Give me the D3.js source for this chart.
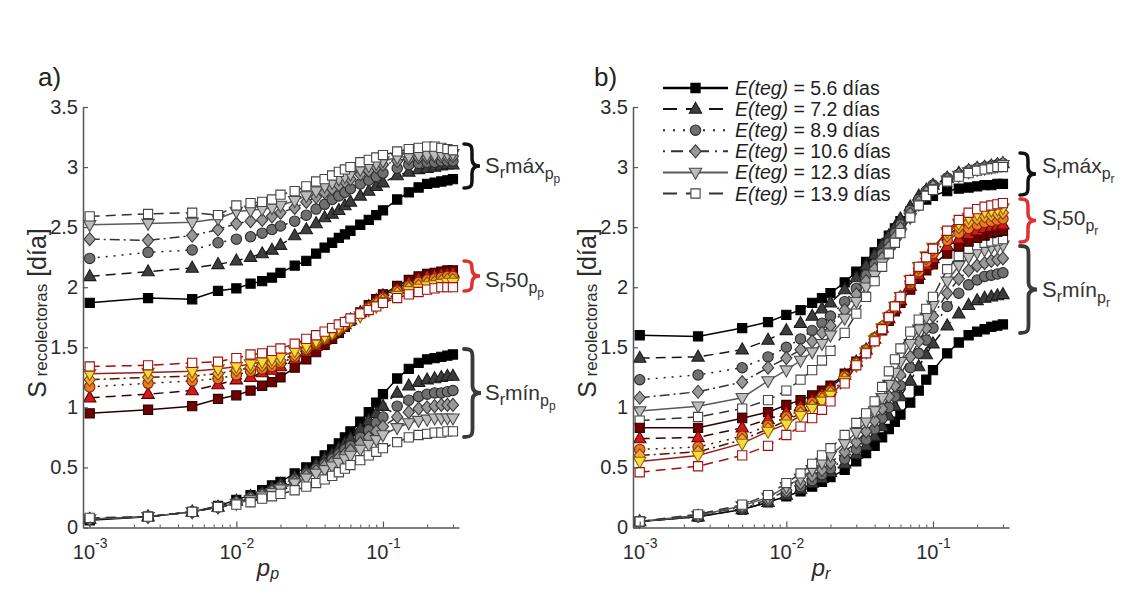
<!DOCTYPE html>
<html>
<head>
<meta charset="utf-8">
<script src="https://cdn.jsdelivr.net/npm/d3@7"></script>
<style>
  body { margin: 0; background: #fff; }
  svg { display: block; }
  text { font-family: "Liberation Sans", Arial, Helvetica, sans-serif; }
</style>
</head>
<body>
<svg id="chart" width="1131" height="594"></svg>
<script>
// Probability grid shared by every curve (p_p on the left, p_r on the right)
const pValues = [0.001, 0.0025, 0.005, 0.0075, 0.01, 0.0125, 0.015, 0.0175, 0.02, 0.025, 0.03, 0.035, 0.04, 0.045, 0.05,
                 0.055, 0.06, 0.07, 0.08, 0.09, 0.1, 0.125, 0.15, 0.175, 0.2, 0.225, 0.25, 0.275, 0.3];
const ePeriods = ["5.6", "7.2", "8.9", "10.6", "12.3", "13.9"];
const yTicks = [0, 0.5, 1, 1.5, 2, 2.5, 3, 3.5];
const xMajorTicks = [0.001, 0.01, 0.1];
const xMinorTicks = [0.002, 0.003, 0.004, 0.005, 0.006, 0.007, 0.008, 0.009,
                     0.02, 0.03, 0.04, 0.05, 0.06, 0.07, 0.08, 0.09, 0.2, 0.3];

// Panel a) : S_r versus p_p (one row per E(teg))
const ppMax = [
  [1.87,1.91,1.90,1.97,1.99,2.03,2.05,2.08,2.12,2.18,2.22,2.28,2.33,2.37,2.41,2.44,2.47,2.52,2.56,2.60,2.64,2.73,2.79,2.83,2.86,2.87,2.88,2.89,2.90],
  [2.09,2.13,2.16,2.19,2.22,2.25,2.28,2.31,2.35,2.43,2.48,2.53,2.58,2.61,2.64,2.68,2.71,2.76,2.80,2.84,2.87,2.93,2.96,2.98,2.99,3.00,3.01,3.02,3.02],
  [2.24,2.29,2.31,2.37,2.40,2.42,2.45,2.48,2.51,2.55,2.60,2.65,2.69,2.73,2.76,2.79,2.82,2.86,2.89,2.92,2.95,2.99,3.02,3.03,3.04,3.04,3.05,3.05,3.05],
  [2.40,2.39,2.43,2.48,2.53,2.55,2.56,2.59,2.62,2.66,2.71,2.75,2.79,2.82,2.85,2.88,2.90,2.94,2.97,3.00,3.02,3.05,3.07,3.08,3.08,3.09,3.09,3.09,3.09],
  [2.52,2.53,2.54,2.57,2.63,2.64,2.65,2.66,2.68,2.72,2.76,2.80,2.84,2.87,2.90,2.92,2.94,2.98,3.01,3.03,3.05,3.08,3.09,3.10,3.10,3.10,3.11,3.11,3.11],
  [2.59,2.61,2.62,2.60,2.68,2.70,2.71,2.73,2.77,2.80,2.84,2.88,2.90,2.93,2.96,2.98,3.00,3.04,3.06,3.08,3.10,3.13,3.15,3.16,3.17,3.17,3.16,3.15,3.14]
];
const pp50 = [
  [0.95,0.98,1.01,1.07,1.10,1.14,1.18,1.21,1.25,1.33,1.40,1.46,1.52,1.57,1.62,1.67,1.72,1.79,1.85,1.90,1.94,2.01,2.06,2.09,2.11,2.12,2.13,2.14,2.14],
  [1.08,1.11,1.14,1.19,1.23,1.25,1.29,1.31,1.34,1.40,1.46,1.51,1.56,1.61,1.65,1.69,1.73,1.79,1.84,1.89,1.93,1.99,2.04,2.07,2.09,2.10,2.11,2.11,2.12],
  [1.17,1.20,1.22,1.24,1.27,1.30,1.32,1.34,1.37,1.42,1.48,1.53,1.57,1.61,1.65,1.69,1.72,1.78,1.83,1.87,1.91,1.97,2.01,2.04,2.06,2.07,2.08,2.09,2.09],
  [1.23,1.25,1.26,1.28,1.31,1.33,1.35,1.37,1.39,1.44,1.49,1.54,1.58,1.62,1.65,1.69,1.72,1.77,1.82,1.86,1.89,1.95,1.99,2.01,2.03,2.04,2.05,2.06,2.06],
  [1.28,1.29,1.30,1.32,1.34,1.36,1.38,1.40,1.42,1.47,1.51,1.55,1.59,1.62,1.66,1.69,1.72,1.76,1.81,1.84,1.88,1.93,1.97,1.99,2.01,2.02,2.03,2.04,2.04],
  [1.34,1.35,1.37,1.38,1.41,1.44,1.45,1.47,1.49,1.53,1.57,1.60,1.63,1.66,1.69,1.71,1.74,1.78,1.81,1.84,1.87,1.91,1.94,1.96,1.98,1.99,2.00,2.00,2.00]
];
const ppMin = [
  [0.06,0.09,0.13,0.18,0.23,0.27,0.31,0.35,0.38,0.45,0.50,0.55,0.60,0.65,0.70,0.75,0.80,0.88,0.96,1.04,1.11,1.24,1.32,1.37,1.40,1.41,1.42,1.43,1.44],
  [0.07,0.09,0.13,0.17,0.22,0.26,0.29,0.33,0.36,0.42,0.47,0.52,0.57,0.61,0.66,0.70,0.74,0.82,0.89,0.95,1.01,1.12,1.18,1.21,1.23,1.24,1.25,1.26,1.26],
  [0.07,0.09,0.13,0.17,0.21,0.25,0.28,0.31,0.34,0.40,0.45,0.49,0.53,0.57,0.61,0.65,0.68,0.75,0.81,0.87,0.92,1.01,1.06,1.09,1.11,1.12,1.12,1.13,1.14],
  [0.07,0.09,0.13,0.17,0.21,0.24,0.27,0.30,0.33,0.38,0.43,0.47,0.51,0.54,0.58,0.61,0.64,0.70,0.75,0.80,0.84,0.92,0.96,0.99,1.00,1.01,1.02,1.02,1.02],
  [0.07,0.09,0.13,0.17,0.20,0.23,0.26,0.29,0.32,0.37,0.41,0.45,0.48,0.51,0.54,0.57,0.60,0.65,0.69,0.73,0.77,0.83,0.87,0.89,0.90,0.91,0.91,0.91,0.91],
  [0.08,0.09,0.13,0.17,0.19,0.21,0.24,0.26,0.28,0.31,0.34,0.37,0.40,0.43,0.46,0.49,0.52,0.56,0.60,0.63,0.66,0.71,0.75,0.77,0.78,0.79,0.79,0.80,0.80]
];

// Panel b) : S_r versus p_r
const prMax = [
  [1.60,1.59,1.66,1.71,1.77,1.81,1.87,1.91,1.95,2.04,2.13,2.21,2.29,2.36,2.43,2.49,2.55,2.63,2.69,2.73,2.76,2.80,2.82,2.83,2.84,2.85,2.85,2.86,2.86],
  [1.41,1.42,1.48,1.56,1.64,1.70,1.76,1.82,1.87,1.98,2.08,2.18,2.27,2.35,2.43,2.50,2.57,2.67,2.76,2.81,2.85,2.91,2.95,2.97,2.99,3.00,3.01,3.02,3.03],
  [1.23,1.27,1.33,1.42,1.50,1.57,1.64,1.70,1.76,1.88,1.99,2.10,2.19,2.28,2.37,2.45,2.52,2.64,2.73,2.80,2.85,2.91,2.94,2.97,2.99,3.00,3.01,3.02,3.03],
  [1.08,1.13,1.21,1.33,1.41,1.48,1.55,1.62,1.68,1.81,1.94,2.05,2.15,2.24,2.33,2.41,2.49,2.61,2.71,2.79,2.84,2.90,2.94,2.97,2.99,3.00,3.01,3.02,3.03],
  [0.97,1.01,1.08,1.22,1.31,1.39,1.46,1.53,1.60,1.74,1.88,2.00,2.10,2.20,2.29,2.37,2.45,2.58,2.69,2.77,2.82,2.89,2.93,2.96,2.98,2.99,3.00,3.01,3.02],
  [0.89,0.92,0.99,1.06,1.14,1.23,1.31,1.39,1.47,1.62,1.78,1.92,2.05,2.17,2.28,2.37,2.45,2.58,2.68,2.76,2.81,2.88,2.92,2.95,2.97,2.98,2.99,3.00,3.00]
];
const pr50 = [
  [0.83,0.83,0.91,0.96,1.02,1.06,1.10,1.14,1.18,1.28,1.38,1.47,1.56,1.64,1.72,1.80,1.87,1.98,2.07,2.14,2.19,2.28,2.34,2.38,2.41,2.43,2.45,2.46,2.47],
  [0.74,0.75,0.83,0.90,0.96,1.01,1.06,1.11,1.16,1.27,1.38,1.48,1.57,1.66,1.74,1.82,1.89,2.01,2.10,2.18,2.24,2.34,2.40,2.44,2.47,2.49,2.50,2.51,2.52],
  [0.65,0.67,0.76,0.85,0.92,0.98,1.04,1.09,1.14,1.26,1.37,1.48,1.58,1.67,1.76,1.84,1.91,2.03,2.13,2.21,2.28,2.39,2.45,2.49,2.52,2.54,2.55,2.56,2.57],
  [0.60,0.63,0.73,0.82,0.89,0.95,1.01,1.07,1.12,1.24,1.36,1.47,1.57,1.67,1.76,1.84,1.92,2.05,2.16,2.24,2.31,2.43,2.50,2.54,2.57,2.59,2.60,2.61,2.62],
  [0.55,0.60,0.70,0.80,0.86,0.93,0.99,1.05,1.10,1.22,1.35,1.46,1.56,1.66,1.75,1.84,1.92,2.06,2.17,2.26,2.33,2.46,2.53,2.58,2.61,2.63,2.64,2.65,2.66],
  [0.46,0.51,0.60,0.68,0.77,0.84,0.91,0.98,1.05,1.20,1.35,1.45,1.55,1.65,1.75,1.84,1.92,2.06,2.17,2.25,2.32,2.47,2.56,2.62,2.65,2.67,2.68,2.69,2.70]
];
const prMin = [
  [0.05,0.09,0.15,0.21,0.26,0.30,0.34,0.38,0.42,0.48,0.55,0.62,0.68,0.75,0.82,0.88,0.94,1.04,1.14,1.23,1.31,1.45,1.54,1.60,1.63,1.65,1.67,1.68,1.69],
  [0.05,0.09,0.15,0.21,0.27,0.32,0.37,0.41,0.46,0.53,0.61,0.68,0.76,0.84,0.93,1.01,1.09,1.22,1.34,1.44,1.53,1.68,1.78,1.85,1.89,1.91,1.92,1.93,1.94],
  [0.05,0.09,0.16,0.22,0.29,0.34,0.39,0.44,0.49,0.57,0.65,0.73,0.82,0.91,1.00,1.09,1.18,1.33,1.45,1.56,1.66,1.84,1.95,2.02,2.06,2.09,2.10,2.11,2.12],
  [0.05,0.10,0.17,0.23,0.31,0.37,0.43,0.48,0.54,0.63,0.71,0.80,0.89,0.99,1.09,1.18,1.27,1.42,1.55,1.66,1.76,1.95,2.07,2.14,2.18,2.20,2.22,2.23,2.24],
  [0.05,0.10,0.18,0.25,0.34,0.41,0.48,0.54,0.60,0.70,0.79,0.88,0.97,1.08,1.19,1.29,1.38,1.53,1.65,1.75,1.85,2.05,2.18,2.25,2.29,2.31,2.33,2.34,2.35],
  [0.05,0.11,0.19,0.27,0.37,0.45,0.53,0.60,0.66,0.77,0.87,0.95,1.05,1.17,1.30,1.40,1.49,1.63,1.73,1.82,1.92,2.15,2.26,2.32,2.35,2.37,2.38,2.39,2.40]
];

// ---------- marker shapes ----------
const symSquare  = { draw(c) { c.rect(-4.6, -4.6, 9.2, 9.2); } };
const symTriUp   = { draw(c) { c.moveTo(0, -6.8); c.lineTo(6.2, 4.2); c.lineTo(-6.2, 4.2); c.closePath(); } };
const symCircle  = { draw(c) { c.moveTo(5.2, 0); c.arc(0, 0, 5.2, 0, 2 * Math.PI); } };
const symDiamond = { draw(c) { c.moveTo(0, -6.5); c.lineTo(5.6, 0); c.lineTo(0, 6.5); c.lineTo(-5.6, 0); c.closePath(); } };
const symTriDown = { draw(c) { c.moveTo(0, 6.8); c.lineTo(6.2, -4.2); c.lineTo(-6.2, -4.2); c.closePath(); } };
const symbols = [symSquare, symTriUp, symCircle, symDiamond, symTriDown, symSquare];
const dashes = [null, "10,6", "2,6", "10,4,2,4", null, "10,6"];

const grayStyle = {
  fill: ["#000000", "#3d3d3d", "#707070", "#999999", "#bcbcbc", "#ffffff"],
  edge: ["#000000", "#1c1c1c", "#2a2a2a", "#3a3a3a", "#4a4a4a", "#454545"],
  line: ["#000000", "#151515", "#222222", "#333333", "#5a5a5a", "#333333"]
};
const redStyle = {
  fill: ["#6e0000", "#d21a1a", "#ec7a24", "#f4a843", "#ffd93b", "#ffffff"],
  edge: ["#2a0000", "#5e0000", "#7a2a00", "#8a4800", "#8a6800", "#a30f0f"],
  line: ["#2a0000", "#3a0000", "#4a1000", "#4a1a00", "#a01c1c", "#a30f0f"]
};

const svg = d3.select("#chart");
const yScale = d3.scaleLinear().domain([0, 3.5]).range([527.5, 107]);
const textColor = "#2b2b2b";

function brace(x0, y0, y1, w) {
  const ym = (y0 + y1) / 2, xm = x0 + w * 0.5;
  const p = d3.path();
  p.moveTo(x0, y0);
  p.bezierCurveTo(x0 + w * 0.5, y0, xm, y0 + 3, xm, y0 + 9);
  p.lineTo(xm, ym - 7);
  p.bezierCurveTo(xm, ym - 2, x0 + w * 0.7, ym, x0 + w, ym);
  p.bezierCurveTo(x0 + w * 0.7, ym, xm, ym + 2, xm, ym + 7);
  p.lineTo(xm, y1 - 9);
  p.bezierCurveTo(xm, y1 - 3, x0 + w * 0.5, y1, x0, y1);
  return p.toString();
}

function groupLabel(g, x, y, middle, sub) {
  const t = g.append("text").attr("x", x).attr("y", y).attr("fill", "#333");
  t.append("tspan").attr("font-size", 22).text("S");
  t.append("tspan").attr("font-size", 16).attr("dy", 5).text("r");
  t.append("tspan").attr("font-size", 21).attr("dy", -5).text(middle);
  t.append("tspan").attr("font-size", 16).attr("dy", 6).text("p");
  t.append("tspan").attr("font-size", 12).attr("dy", 4).text(sub);
}

function drawPanel(cfg) {
  const x = d3.scaleLog().domain([0.0009, 0.33]).range(cfg.range);
  const g = svg.append("g");
  const line = d3.line().x((d, i) => x(pValues[i])).y(d => yScale(d));

  // curves: maximum, minimum, then median set on top
  [[cfg.max, grayStyle], [cfg.min, grayStyle], [cfg.mid, redStyle]].forEach(([set, st]) => {
    set.forEach((vals, k) => {
      g.append("path")
        .attr("d", line(vals))
        .attr("fill", "none")
        .attr("stroke", st.line[k])
        .attr("stroke-width", 1.5)
        .attr("stroke-dasharray", dashes[k]);
      g.append("g").selectAll("path").data(vals).enter().append("path")
        .attr("transform", (d, i) => `translate(${x(pValues[i])},${yScale(d)})`)
        .attr("d", d3.symbol().type(symbols[k]))
        .attr("fill", st.fill[k])
        .attr("stroke", st.edge[k])
        .attr("stroke-width", 1.1);
    });
  });

  // y axis
  const ay = g.append("g").attr("transform", `translate(${cfg.range[0]},0)`)
    .call(d3.axisLeft(yScale).tickValues(yTicks).tickFormat(d3.format("~g"))
      .tickSizeInner(-5).tickSizeOuter(0).tickPadding(5));
  ay.select(".domain").attr("stroke", "#555").attr("stroke-width", 1.5);
  ay.selectAll(".tick line").attr("stroke", "#555").attr("stroke-width", 1.2);
  ay.selectAll(".tick text").attr("font-size", 20).attr("fill", textColor)
    .attr("font-family", '"Liberation Sans", Arial, sans-serif');

  // x axis (log) with minor ticks
  const y0 = yScale(0);
  const axMinor = g.append("g").attr("transform", `translate(0,${y0})`)
    .call(d3.axisBottom(x).tickValues(xMinorTicks).tickFormat("").tickSizeInner(-3).tickSizeOuter(0));
  axMinor.select(".domain").remove();
  axMinor.selectAll(".tick line").attr("stroke", "#555");
  const ax = g.append("g").attr("transform", `translate(0,${y0})`)
    .call(d3.axisBottom(x).tickValues(xMajorTicks).tickFormat("").tickSizeInner(-6).tickSizeOuter(0));
  ax.select(".domain").attr("stroke", "#555").attr("stroke-width", 1.5);
  ax.selectAll(".tick line").attr("stroke", "#555").attr("stroke-width", 1.2);
  ax.selectAll(".tick").each(function (d) {
    const t = d3.select(this).append("text").attr("y", 31).attr("text-anchor", "middle")
      .attr("fill", textColor).attr("font-family", '"Liberation Sans", Arial, sans-serif');
    t.append("tspan").attr("font-size", 20).text("10");
    t.append("tspan").attr("font-size", 14).attr("dy", -11).text(String(Math.round(Math.log10(d))));
  });

  // axis titles
  const xl = g.append("text").attr("x", cfg.xLabelX).attr("y", 576).attr("text-anchor", "middle")
    .attr("fill", textColor).attr("font-style", "italic");
  xl.append("tspan").attr("font-size", 24).text("p");
  xl.append("tspan").attr("font-size", 16).attr("dy", 3).text(cfg.sub);

  const yl = g.append("text").attr("transform", `translate(${cfg.yLabelX},313) rotate(-90)`)
    .attr("text-anchor", "middle").attr("fill", textColor);
  yl.append("tspan").attr("font-size", 25).text("S");
  yl.append("tspan").attr("font-size", 17).attr("dy", 1).text(" recolectoras");
  yl.append("tspan").attr("font-size", 25).attr("dy", -1).text(" [día]");

  // panel tag
  g.append("text").attr("x", cfg.tagX).attr("y", 86).attr("font-size", 26).attr("fill", "#222").text(cfg.tag);

  // braces and their labels
  const bx = cfg.braceX;
  g.append("path").attr("d", brace(bx, cfg.bMax[0], cfg.bMax[1], 16)).attr("fill", "none")
    .attr("stroke", "#111").attr("stroke-width", 3.5).attr("stroke-linecap", "round");
  g.append("path").attr("d", brace(bx, cfg.b50[0], cfg.b50[1], 16)).attr("fill", "none")
    .attr("stroke", "#e03030").attr("stroke-width", 3.5).attr("stroke-linecap", "round");
  g.append("path").attr("d", brace(bx, cfg.bMin[0], cfg.bMin[1], 17)).attr("fill", "none")
    .attr("stroke", "#3a3a3a").attr("stroke-width", 3.8).attr("stroke-linecap", "round");
  groupLabel(g, cfg.labelX, cfg.lMax, "máx", cfg.sub);
  groupLabel(g, cfg.labelX, cfg.l50, "50", cfg.sub);
  groupLabel(g, cfg.labelX, cfg.lMin, "mín", cfg.sub);
  return g;
}

drawPanel({ range: [83, 459], max: ppMax, mid: pp50, min: ppMin, sub: "p",
  xLabelX: 268, yLabelX: 46, tag: "a)", tagX: 38,
  braceX: 464, bMax: [144, 188], b50: [261, 291], bMin: [349, 437],
  labelX: 485, lMax: 173, l50: 287, lMin: 400 });
drawPanel({ range: [633, 1009], max: prMax, mid: pr50, min: prMin, sub: "r",
  xLabelX: 821, yLabelX: 596, tag: "b)", tagX: 594,
  braceX: 1020, bMax: [153, 195], b50: [199, 242], bMin: [246, 333],
  labelX: 1042, lMax: 173, l50: 225, lMin: 297 });

// legend
const leg = svg.append("g");
const legendDash = [null, "14,9", "2,8", "2,6,12,6", null, "14,9"];
ePeriods.forEach((e, k) => {
  const cy = 88 + k * 21.1;
  leg.append("line").attr("x1", 663).attr("x2", 728).attr("y1", cy).attr("y2", cy)
    .attr("stroke", grayStyle.line[k]).attr("stroke-width", k === 0 ? 2.4 : 2)
    .attr("stroke-dasharray", legendDash[k]);
  leg.append("path").attr("transform", `translate(695.5,${cy})`)
    .attr("d", d3.symbol().type(symbols[k]))
    .attr("fill", grayStyle.fill[k]).attr("stroke", grayStyle.edge[k]).attr("stroke-width", 1.1);
  const t = leg.append("text").attr("x", 735).attr("y", cy + 7).attr("font-size", 19.5).attr("fill", "#1e1e1e");
  t.append("tspan").attr("font-style", "italic").text("E(teg)");
  t.append("tspan").text(` = ${e} días`);
});
</script>
</body>
</html>
